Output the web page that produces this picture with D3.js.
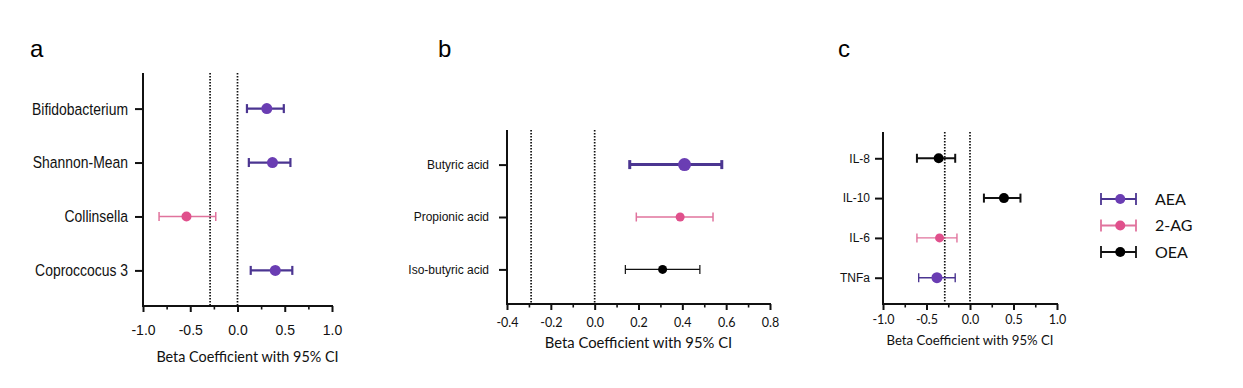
<!DOCTYPE html>
<html lang="en">
<head>
  <meta charset="UTF-8">
  <title>Forest plots</title>
  <script src="https://d3js.org/d3.v7.min.js"></script>
  <style>
    body { margin: 0; background: #fff; }
    svg { display: block; }
    .cat text { font-family: "Liberation Sans", Arial, sans-serif; fill: #111; }
    .title { font-family: Lato, "Open Sans", sans-serif; fill: #111; }
  </style>
</head>
<body>
  <svg width="1243" height="388"></svg>

  <script>
    // panel a - microbiome
    const catsA = ["Bifidobacterium", "Shannon-Mean", "Collinsella", "Coproccocus 3"];
    const estA = [0.31, 0.37, -0.54, 0.40];
    const lowA = [0.10, 0.12, -0.83, 0.14];
    const highA = [0.49, 0.56, -0.23, 0.58];
    const groupA = ["AEA", "AEA", "2-AG", "AEA"];

    // panel b - short chain fatty acids
    const catsB = ["Butyric acid", "Propionic acid", "Iso-butyric acid"];
    const estB = [0.41, 0.39, 0.31];
    const lowB = [0.16, 0.19, 0.14];
    const highB = [0.58, 0.54, 0.48];
    const groupB = ["AEA", "2-AG", "OEA"];

    // panel c - cytokines
    const catsC = ["IL-8", "IL-10", "IL-6", "TNFa"];
    const estC = [-0.36, 0.39, -0.35, -0.38];
    const lowC = [-0.61, 0.16, -0.61, -0.59];
    const highC = [-0.17, 0.58, -0.15, -0.17];
    const groupC = ["OEA", "OEA", "2-AG", "AEA"];

    const refLines = [-0.29, 0];
    const legendGroups = ["AEA", "2-AG", "OEA"];

    const colors = {
      "AEA": { line: "#4b3591", dot: "#6a3db3" },
      "2-AG": { line: "#e0739d", dot: "#e0508c" },
      "OEA": { line: "#111111", dot: "#000000" }
    };

    const svg = d3.select("svg");
    // plain hyphen for negatives, like the original
    const fmt = d => d3.format(".1f")(d).replace("\u2212", "-");

    const panels = [
      {
        letter: "a", lx: 30, ly: 57,
        cats: catsA, est: estA, low: lowA, high: highA, group: groupA,
        x0: 143, x1: 332, yTop: 73, yBot: 306,
        domain: [-1, 1], major: [-1, -0.5, 0, 0.5, 1], minor: [-0.75, -0.25, 0.25, 0.75],
        tickFont: "14px 'Liberation Sans', Arial, sans-serif", tickDy: 29,
        catSize: 17, catScale: 0.82, catPad: 15, titleSize: 14.4, titleY: 362,
        style: { "AEA": [2.2, 5.5], "2-AG": [1.5, 5] }
      },
      {
        letter: "b", lx: 438, ly: 57,
        cats: catsB, est: estB, low: lowB, high: highB, group: groupB,
        x0: 507, x1: 770, yTop: 130, yBot: 304,
        domain: [-0.4, 0.8], major: [-0.4, -0.2, 0, 0.2, 0.4, 0.6, 0.8], minor: [-0.3, -0.1, 0.1, 0.3, 0.5, 0.7],
        tickFont: "12.5px Lato, 'Open Sans', sans-serif", tickDy: 23,
        catSize: 12, catScale: 1, catPad: 18, titleSize: 14.8, titleY: 348,
        style: { "AEA": [3, 6.5], "2-AG": [1.5, 4.5], "OEA": [1.2, 4.5] }
      },
      {
        letter: "c", lx: 838, ly: 57,
        cats: catsC, est: estC, low: lowC, high: highC, group: groupC,
        x0: 883, x1: 1057, yTop: 132, yBot: 304,
        domain: [-1, 1], major: [-1, -0.5, 0, 0.5, 1], minor: [-0.75, -0.25, 0.25, 0.75],
        tickFont: "12.5px Lato, 'Open Sans', sans-serif", tickDy: 20,
        catSize: 12, catScale: 1, catPad: 13, titleSize: 13.2, titleY: 345,
        style: { "AEA": [1.4, 5.5], "2-AG": [1.4, 4.5], "OEA": [2, 5] }
      }
    ];

    panels.forEach(p => {
      const g = svg.append("g");

      const x = d3.scaleLinear().domain(p.domain).range([p.x0, p.x1]);
      const y = d3.scalePoint().domain(p.cats).range([p.yTop, p.yBot]).padding(0.66);

      g.append("text")
        .attr("x", p.lx).attr("y", p.ly)
        .style("font", "24px 'Liberation Sans', Arial, sans-serif")
        .text(p.letter);

      // reference lines
      g.selectAll(".ref")
        .data(refLines)
        .enter().append("line")
        .attr("x1", d => x(d)).attr("x2", d => x(d))
        .attr("y1", p.yTop).attr("y2", p.yBot)
        .attr("stroke", "#111")
        .attr("stroke-width", 1.7)
        .attr("stroke-dasharray", "1.5,1.5");

      // x axis, major then minor ticks
      const xAxis = g.append("g")
        .attr("transform", `translate(0,${p.yBot})`)
        .call(d3.axisBottom(x).tickValues(p.major).tickFormat(fmt).tickSize(6).tickSizeOuter(0));
      xAxis.select(".domain").attr("stroke", "#111").attr("stroke-width", 2)
        .attr("d", `M${p.x0 - 1},0H${p.x1 + 1}`);
      xAxis.selectAll(".tick line").attr("stroke", "#111").attr("stroke-width", 2);
      xAxis.selectAll(".tick text")
        .attr("y", p.tickDy).attr("dy", 0)
        .style("font", p.tickFont).attr("fill", "#111");

      g.append("g")
        .attr("transform", `translate(0,${p.yBot})`)
        .call(d3.axisBottom(x).tickValues(p.minor).tickFormat("").tickSize(3.5))
        .call(a => a.select(".domain").remove())
        .selectAll(".tick line").attr("stroke", "#111").attr("stroke-width", 1.6);

      // y axis
      const yAxis = g.append("g")
        .attr("class", "cat")
        .attr("transform", `translate(${p.x0},0)`)
        .call(d3.axisLeft(y).tickSize(8).tickSizeOuter(0));
      yAxis.select(".domain").attr("stroke", "#111").attr("stroke-width", 2)
        .attr("d", `M0,${p.yTop}V${p.yBot + 1}`);
      yAxis.selectAll(".tick line").attr("stroke", "#111").attr("stroke-width", 2);
      yAxis.selectAll(".tick text")
        .attr("x", 0)
        .attr("transform", `translate(${-p.catPad},0) scale(${p.catScale},1)`)
        .style("font-size", p.catSize + "px");

      g.append("text")
        .attr("class", "title")
        .attr("x", (p.x0 + p.x1) / 2 + (p.letter === "a" ? 10 : 0))
        .attr("y", p.titleY)
        .attr("text-anchor", "middle")
        .style("font-size", p.titleSize + "px")
        .text("Beta Coefficient with 95% CI");

      // error bars
      const rows = p.cats.map((c, i) => ({
        cat: c, est: p.est[i], low: p.low[i], high: p.high[i], group: p.group[i]
      }));

      const row = g.selectAll(".row")
        .data(rows)
        .enter().append("g")
        .attr("transform", d => `translate(0,${y(d.cat)})`);

      row.append("line")
        .attr("x1", d => x(d.low)).attr("x2", d => x(d.high))
        .attr("stroke", d => colors[d.group].line)
        .attr("stroke-width", d => p.style[d.group][0]);

      row.selectAll(".cap")
        .data(d => [d.low, d.high].map(v => ({ v, group: d.group })))
        .enter().append("line")
        .attr("x1", d => x(d.v)).attr("x2", d => x(d.v))
        .attr("y1", -4.5).attr("y2", 4.5)
        .attr("stroke", d => colors[d.group].line)
        .attr("stroke-width", d => p.style[d.group][0]);

      row.append("circle")
        .attr("cx", d => x(d.est))
        .attr("r", d => p.style[d.group][1])
        .attr("fill", d => colors[d.group].dot);
    });

    // legend
    const legend = svg.append("g");
    const ly = d3.scalePoint().domain(legendGroups).range([199, 252]);
    const lx = d3.scaleLinear().domain([0, 1]).range([1101, 1136]);

    const item = legend.selectAll(".item")
      .data(legendGroups)
      .enter().append("g")
      .attr("transform", d => `translate(0,${ly(d)})`);

    item.append("line")
      .attr("x1", lx(0)).attr("x2", lx(1))
      .attr("stroke", d => colors[d].line).attr("stroke-width", 1.8);
    item.selectAll(".cap")
      .data(d => [0, 1].map(v => ({ v, g: d })))
      .enter().append("line")
      .attr("x1", d => lx(d.v)).attr("x2", d => lx(d.v))
      .attr("y1", -6).attr("y2", 6)
      .attr("stroke", d => colors[d.g].line).attr("stroke-width", 1.8);
    item.append("circle")
      .attr("cx", lx(0.55)).attr("r", 5)
      .attr("fill", d => colors[d].dot);
    item.append("text")
      .attr("class", "title")
      .attr("x", 1155).attr("dy", "0.36em")
      .style("font-size", "16px")
      .text(d => d);
  </script>
</body>
</html>
